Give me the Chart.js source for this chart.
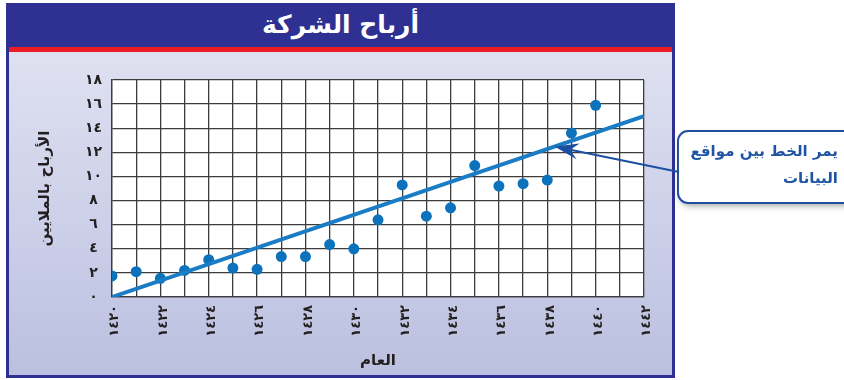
<!DOCTYPE html>
<html lang="ar">
<head>
<meta charset="utf-8">
<script src="https://cdn.jsdelivr.net/npm/chart.js@4"></script>
<style>
  body { margin: 0; width: 844px; height: 380px; background: #fff; overflow: hidden; }
  .frame { position: absolute; left: 6px; top: 3px; width: 669px; height: 375px; background: #2e3192; }
  .stripe { position: absolute; left: 9px; top: 47px; width: 663px; height: 5px; background: #ed1c24; }
  .panel { position: absolute; left: 9px; top: 52px; width: 663px; height: 323px; background: linear-gradient(#dfe1f1, #bbc0e0); }
  .title {
    position: absolute; left: 6px; top: 3px; width: 669px; height: 44px;
    color: #fff; font: bold 25px "DejaVu Sans"; line-height: 44px; text-align: center; direction: rtl;
  }
  .holder { position: absolute; left: 0; top: 0; width: 844px; height: 380px; }
</style>
</head>
<body>
<div class="frame"></div>
<div class="stripe"></div>
<div class="panel"></div>
<div class="title">أرباح الشركة</div>
<div class="holder"><canvas id="profit-chart"></canvas></div>
<script>
// profits per year (millions)
const years = [1420, 1421, 1422, 1423, 1424, 1425, 1426, 1427, 1428, 1429, 1430,
  1431, 1432, 1433, 1434, 1435, 1436, 1437, 1438, 1439, 1440];
const profits = [1.75, 2.1, 1.55, 2.2, 3.1, 2.4, 2.3, 3.35, 3.35, 4.35, 4.0,
  6.4, 9.3, 6.7, 7.4, 10.9, 9.2, 9.4, 9.7, 13.6, 15.9];
// fitted line end points
const trendYears = [1420, 1442];
const trendValues = [0, 15];

const yearLabels = ["١٤٢٠", "١٤٢٢", "١٤٢٤", "١٤٢٦", "١٤٢٨", "١٤٣٠",
  "١٤٣٢", "١٤٣٤", "١٤٣٦", "١٤٣٨", "١٤٤٠", "١٤٤٢"];
const profitLabels = ["٠", "٢", "٤", "٦", "٨", "١٠", "١٢", "١٤", "١٦", "١٨"];

const calloutLines = ["يمر الخط بين مواقع", "البيانات"];
const calloutYear = 1438.3;

const blue = "#0b72bb";
const gridColor = "#3c3c3c";
const arabicFont = "DejaVu Sans";

const trendAt = (x) =>
  trendValues[0] + (trendValues[1] - trendValues[0]) * (x - trendYears[0]) / (trendYears[1] - trendYears[0]);

// white plot background
const plotBackground = {
  id: "plotBackground",
  beforeDraw(chart) {
    const { ctx, chartArea: a } = chart;
    ctx.save();
    ctx.fillStyle = "#fff";
    ctx.fillRect(a.left, a.top, a.right - a.left, a.bottom - a.top);
    ctx.restore();
  },
};

// callout box with an arrow pointing at the line
const callout = {
  id: "callout",
  afterDraw(chart) {
    const { ctx } = chart;
    const xs = chart.scales.x;
    const ys = chart.scales.y;
    const tipX = xs.getPixelForValue(calloutYear);
    const tipY = ys.getPixelForValue(trendAt(calloutYear));
    const tailX = 679, tailY = 172;

    ctx.save();
    // box
    const bx = 678, by = 131, bw = 190, bh = 72, r = 10;
    ctx.shadowColor = "rgba(0,0,0,0.35)";
    ctx.shadowBlur = 6;
    ctx.shadowOffsetX = 2;
    ctx.shadowOffsetY = 3;
    ctx.beginPath();
    ctx.roundRect(bx, by, bw, bh, r);
    ctx.fillStyle = "#fff";
    ctx.fill();
    ctx.shadowColor = "transparent";
    ctx.lineWidth = 2;
    ctx.strokeStyle = "#1f4f9e";
    ctx.stroke();

    ctx.fillStyle = "#1f55a3";
    ctx.font = "bold 15px '" + arabicFont + "'";
    ctx.textAlign = "right";
    ctx.textBaseline = "middle";
    ctx.direction = "rtl";
    ctx.fillText(calloutLines[0], 838, 152);
    ctx.fillText(calloutLines[1], 838, 179);

    // arrow
    const ang = Math.atan2(tipY - tailY, tipX - tailX);
    const cos = Math.cos(ang), sin = Math.sin(ang);
    const headLen = 24, headW = 8, notch = 8;
    const backX = tipX - headLen * cos;
    const backY = tipY - headLen * sin;
    ctx.strokeStyle = "#1b4fa3";
    ctx.lineWidth = 2;
    ctx.beginPath();
    ctx.moveTo(tailX, tailY);
    ctx.lineTo(backX + notch * cos, backY + notch * sin);
    ctx.stroke();
    ctx.fillStyle = "#1b4fa3";
    ctx.beginPath();
    ctx.moveTo(tipX, tipY);
    ctx.lineTo(backX - headW * sin, backY + headW * cos);
    ctx.lineTo(backX + notch * cos, backY + notch * sin);
    ctx.lineTo(backX + headW * sin, backY - headW * cos);
    ctx.closePath();
    ctx.fill();
    ctx.restore();
  },
};

const profitCanvas = document.getElementById("profit-chart");

let profitChart = new Chart(profitCanvas, {
  type: "scatter",
  data: {
    datasets: [
      {
        type: "line",
        data: trendYears.map((x, i) => ({ x, y: trendValues[i] })),
        borderColor: "#1a7cc4",
        borderWidth: 4,
        pointRadius: 0,
        fill: false,
      },
      {
        data: years.map((x, i) => ({ x, y: profits[i] })),
        backgroundColor: blue,
        borderWidth: 0,
        pointRadius: 5.5,
      },
    ],
  },
  options: {
    responsive: true,
    maintainAspectRatio: false,
    devicePixelRatio: 1,
    animation: false,
    events: [],
    layout: {
      padding: { top: 80, right: 200, bottom: 0, left: 0 },
    },
    scales: {
      x: {
        type: "linear",
        min: 1420,
        max: 1442,
        afterFit: (scale) => { scale.height = 83; },
        border: { color: gridColor, width: 1.3 },
        grid: { color: gridColor, lineWidth: 1.3, drawTicks: false },
        ticks: {
          stepSize: 1,
          autoSkip: false,
          minRotation: 90,
          maxRotation: 90,
          padding: 8,
          labelOffset: 3,
          color: "#231f20",
          font: { family: arabicFont, size: 13, weight: "bold" },
          callback: (value) => (value % 2 === 0 ? yearLabels[(value - 1420) / 2] : ""),
        },
        title: {
          display: true,
          text: "العام",
          color: "#231f20",
          font: { family: arabicFont, size: 15, weight: "bold" },
          padding: { top: 0, bottom: 10 },
        },
      },
      y: {
        min: 0,
        max: 18,
        afterFit: (scale) => { scale.width = 112; },
        border: { color: gridColor, width: 1.3 },
        grid: { color: gridColor, lineWidth: 1.3, drawTicks: false },
        ticks: {
          stepSize: 2,
          padding: 10,
          crossAlign: "center",
          color: "#231f20",
          font: { family: arabicFont, size: 14, weight: "bold" },
          callback: (value) => profitLabels[value / 2],
        },
        title: {
          display: true,
          text: "الأرباح بالملايين",
          color: "#231f20",
          font: { family: arabicFont, size: 15, weight: "bold" },
          padding: { top: 36, bottom: 0 },
        },
      },
    },
    plugins: {
      legend: { display: false },
      tooltip: { enabled: false },
    },
  },
  plugins: [plotBackground, callout],
});
</script>
</body>
</html>
